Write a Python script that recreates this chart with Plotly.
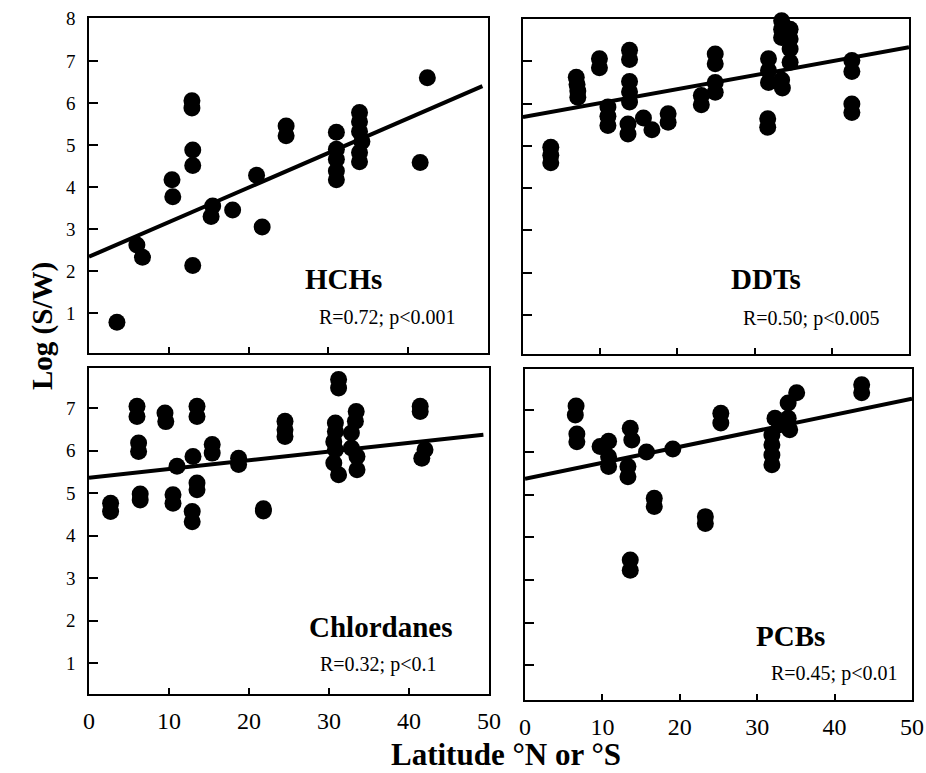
import plotly.graph_objects as go

# ---------------- data ----------------
hch_lat = [3.5, 6.0, 6.7, 10.4, 10.5, 12.9, 12.9, 13.0, 13.0, 13.0, 15.5, 15.3, 18.0,
           21.0, 21.7, 24.7, 24.7, 31.0, 31.0, 31.0, 31.0, 31.0,
           33.9, 33.9, 33.9, 34.2, 33.9, 33.9, 42.4, 41.5]
hch_val = [0.78, 2.62, 2.33, 4.17, 3.77, 6.05, 5.88, 4.88, 4.51, 2.13, 3.55, 3.30, 3.45,
           4.28, 3.05, 5.45, 5.22, 5.30, 4.90, 4.66, 4.38, 4.17,
           5.77, 5.55, 5.32, 5.08, 4.82, 4.60, 6.60, 4.58]

ddt_lat = [3.6, 3.6, 3.6, 6.9, 7.0, 7.1, 7.1, 9.9, 9.9, 11.0, 11.0, 11.0, 13.6, 13.6,
           13.8, 13.8, 13.8, 13.8, 13.8, 15.6, 16.7, 18.8, 18.8, 23.1, 23.1,
           24.9, 24.9, 24.9, 24.9, 31.8, 31.8, 31.8, 31.7, 31.7,
           33.5, 33.5, 33.5, 33.5, 33.6, 34.6, 34.6, 34.6, 34.6,
           42.6, 42.6, 42.6, 42.6]
ddt_val = [4.97, 4.78, 4.60, 6.62, 6.45, 6.30, 6.15, 7.06, 6.85, 5.92, 5.70, 5.48, 5.52, 5.28,
           7.26, 7.04, 6.52, 6.28, 6.04, 5.66, 5.38, 5.76, 5.56, 6.19, 5.97,
           7.17, 6.94, 6.50, 6.27, 7.06, 6.78, 6.50, 5.64, 5.44,
           7.96, 7.76, 7.56, 6.56, 6.37, 7.76, 7.53, 7.29, 6.98,
           7.02, 6.76, 5.99, 5.79]

chl_lat = [2.7, 2.7, 6.0, 6.0, 6.2, 6.2, 6.4, 6.4, 9.5, 9.6, 10.5, 10.5, 11.0, 13.0,
           12.9, 12.9, 13.5, 13.5, 13.5, 13.5, 15.4, 15.4, 18.7, 18.7, 21.8, 21.8,
           24.5, 24.5, 24.5, 31.2, 31.2, 30.8, 30.8, 30.6, 30.8, 30.6, 31.2,
           33.4, 33.3, 32.8, 32.8, 33.5, 33.5, 41.4, 41.4, 42.0, 41.6]
chl_val = [4.76, 4.57, 7.04, 6.80, 6.18, 5.98, 4.98, 4.84, 6.88, 6.68, 4.96, 4.76, 5.63, 5.86,
           4.57, 4.33, 7.04, 6.80, 5.24, 5.08, 6.14, 5.94, 5.82, 5.67, 4.63, 4.58,
           6.69, 6.49, 6.33, 7.67, 7.47, 6.65, 6.45, 6.21, 6.02, 5.71, 5.43,
           6.92, 6.69, 6.41, 6.06, 5.86, 5.55, 7.04, 6.92, 6.02, 5.82]

pcb_lat = [6.6, 6.5, 6.7, 6.7, 9.7, 10.8, 10.8, 10.8, 13.6, 13.8, 13.3, 13.3, 13.6, 13.6,
           15.7, 16.7, 16.7, 19.1, 23.3, 23.3, 25.3, 25.3,
           31.9, 31.9, 31.9, 31.9, 32.3, 32.9, 34.0, 34.2, 34.0, 35.1, 43.5, 43.5]
pcb_val = [7.09, 6.88, 6.43, 6.25, 6.14, 6.26, 5.90, 5.67, 6.57, 6.29, 5.67, 5.43, 3.47, 3.23,
           6.01, 4.92, 4.73, 6.08, 4.49, 4.33, 6.92, 6.69,
           6.41, 6.18, 5.94, 5.71, 6.80, 6.65, 6.80, 6.53, 7.16, 7.40, 7.59, 7.40]

panel_names = ["HCHs", "DDTs", "Chlordanes", "PCBs"]
panel_stats = ["R=0.72; p<0.001", "R=0.50; p<0.005", "R=0.32; p<0.1", "R=0.45; p<0.01"]
fit_intercept = [2.34, 5.68, 5.36, 5.38]
fit_slope = [0.0823, 0.033, 0.0205, 0.0376]
fit_x_start = [0, 0, 0, 0]
fit_x_end = [49.3, 50, 49.3, 50]

x_ticks = [0, 10, 20, 30, 40, 50]
y_ticks = [1, 2, 3, 4, 5, 6, 7, 8]
x_title = "Latitude °N or °S"
y_title = "Log (S/W)"

# ---------------- layout helpers ----------------
W, H = 926, 773
def px(x):
    return x / W
def py(y):
    return 1 - y / H

# pixel boxes of the four frames: (left, right, top, bottom)
boxes = [(89, 488, 18, 353), (523, 909, 19, 354), (89, 489, 368, 694), (525, 912, 369, 700)]
y_ranges = [[0.05, 8.02], [0.08, 8.0], [0.28, 7.94], [0.18, 7.96]]
name_pos = [(343, 279), (766, 279), (380, 627), (790, 636)]
stat_pos = [(387, 317), (811, 319), (378, 664), (834, 673)]

series = [(hch_lat, hch_val), (ddt_lat, ddt_val), (chl_lat, chl_val), (pcb_lat, pcb_val)]

FONT = "Liberation Serif"
fig = go.Figure()
layout_axes = {}
annotations = []

for i in range(4):
    xa = "x" if i == 0 else f"x{i+1}"
    ya = "y" if i == 0 else f"y{i+1}"
    xkey = "xaxis" if i == 0 else f"xaxis{i+1}"
    ykey = "yaxis" if i == 0 else f"yaxis{i+1}"
    lx, rx, ty, by = boxes[i]
    lat, val = series[i]
    fig.add_trace(go.Scatter(x=lat, y=val, mode="markers", xaxis=xa, yaxis=ya,
                             marker=dict(size=17, color="black", line=dict(width=0)),
                             cliponaxis=False, showlegend=False, hoverinfo="skip"))
    xs = [fit_x_start[i], fit_x_end[i]]
    ys = [fit_intercept[i] + fit_slope[i] * x for x in xs]
    fig.add_trace(go.Scatter(x=xs, y=ys, mode="lines", xaxis=xa, yaxis=ya,
                             line=dict(color="black", width=4),
                             showlegend=False, hoverinfo="skip"))
    bottom_row = i >= 2
    left_col = i % 2 == 0
    layout_axes[xkey] = dict(domain=[px(lx), px(rx)], range=[0, 50], anchor=ya,
                             showgrid=False, zeroline=False, showline=True, linecolor="black",
                             linewidth=1.5, mirror=True, ticks="inside", ticklen=6, tickwidth=1.5,
                             tickcolor="black", tickvals=x_ticks, showticklabels=bottom_row,
                             tickfont=dict(family=FONT, size=24, color="black"),
                             ticklabelstandoff=4, automargin=False)
    layout_axes[ykey] = dict(domain=[py(by), py(ty)], range=y_ranges[i], anchor=xa,
                             showgrid=False, zeroline=False, showline=True, linecolor="black",
                             linewidth=1.5, mirror=True, ticks="inside", ticklen=9, tickwidth=1.5,
                             tickcolor="black", tickvals=y_ticks, showticklabels=left_col,
                             tickfont=dict(family=FONT, size=19, color="black"),
                             ticklabelstandoff=8, automargin=False)
    annotations.append(dict(text=f"<b>{panel_names[i]}</b>", x=px(name_pos[i][0]), y=py(name_pos[i][1]),
                            xref="paper", yref="paper", showarrow=False, xanchor="center", yanchor="middle",
                            font=dict(family=FONT, size=29, color="black")))
    annotations.append(dict(text=panel_stats[i], x=px(stat_pos[i][0]), y=py(stat_pos[i][1]),
                            xref="paper", yref="paper", showarrow=False, xanchor="center", yanchor="middle",
                            font=dict(family=FONT, size=20, color="black")))

annotations.append(dict(text=f"<b>{x_title}</b>", x=px(506), y=py(754), xref="paper", yref="paper",
                        showarrow=False, xanchor="center", yanchor="middle",
                        font=dict(family=FONT, size=31, color="black")))
annotations.append(dict(text=f"<b>{y_title}</b>", x=px(42), y=py(326), xref="paper", yref="paper",
                        showarrow=False, xanchor="center", yanchor="middle", textangle=-90,
                        font=dict(family=FONT, size=29, color="black")))

fig.update_layout(width=W, height=H, autosize=False, margin=dict(l=0, r=0, t=0, b=0, pad=0),
                  paper_bgcolor="white", plot_bgcolor="white", annotations=annotations,
                  **layout_axes)

fig.write_html("out.html", config={"displayModeBar": False},
               post_script="document.body.style.margin='0';")
